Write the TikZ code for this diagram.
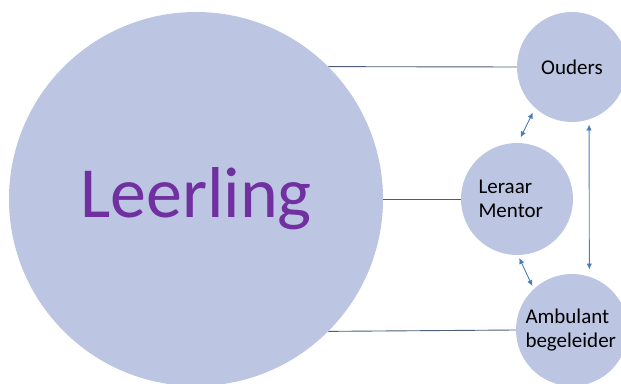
\documentclass[tikz,border=0pt]{standalone}
\usepackage{fontspec}
\setmainfont{Carlito}
\usepackage{xcolor}
\usetikzlibrary{arrows.meta}
\definecolor{circlefill}{HTML}{BCC6E2}
\definecolor{linkline}{HTML}{4A5E78}
\definecolor{arrowblue}{HTML}{4A7EBB}
\definecolor{leerlingpurple}{HTML}{7030A0}

\begin{document}
\begin{tikzpicture}[x=1pt, y=1pt,
  bigcircle/.style={circle, fill=circlefill, minimum size=374pt, inner sep=0pt, text=leerlingpurple, font=\fontsize{72}{80}\selectfont},
  smallcircle/.style={circle, fill=circlefill, minimum size=112pt, inner sep=0pt, align=left, font=\fontsize{21}{24}\selectfont},
  link/.style={draw=linkline, line width=0.9pt},
  twoway/.style={{Latex[length=6pt,width=5.5pt]}-{Latex[length=6pt,width=5.5pt]}, draw=arrowblue, line width=0.9pt}
]
\useasboundingbox (0,0) rectangle (621,383);

% Nodes
\node[bigcircle] (L) at (196,184) {Leerling};
\node[smallcircle, minimum size=110pt] (O) at (572,316) {Ouders};
\node[smallcircle, text width=77pt] (M) at (517,184) {Leraar\\Mentor};
\node[smallcircle, text width=93pt] (A) at (572,53) {Ambulant\\begeleider};

% Edges
\draw[link] (L.45) -- (O.west);
\draw[link] (L.east) -- (M.west);
\draw[link] (L.-45) -- (A.west);

\draw[twoway, shorten <=6pt, shorten >=5pt] (M.89) -- (O.228);
\draw[twoway, shorten <=3pt, shorten >=3pt] (M.271) -- (A.133);
\draw[twoway, shorten <=5pt, shorten >=7pt] (O.-72) -- (A.72);

\end{tikzpicture}
\end{document}
